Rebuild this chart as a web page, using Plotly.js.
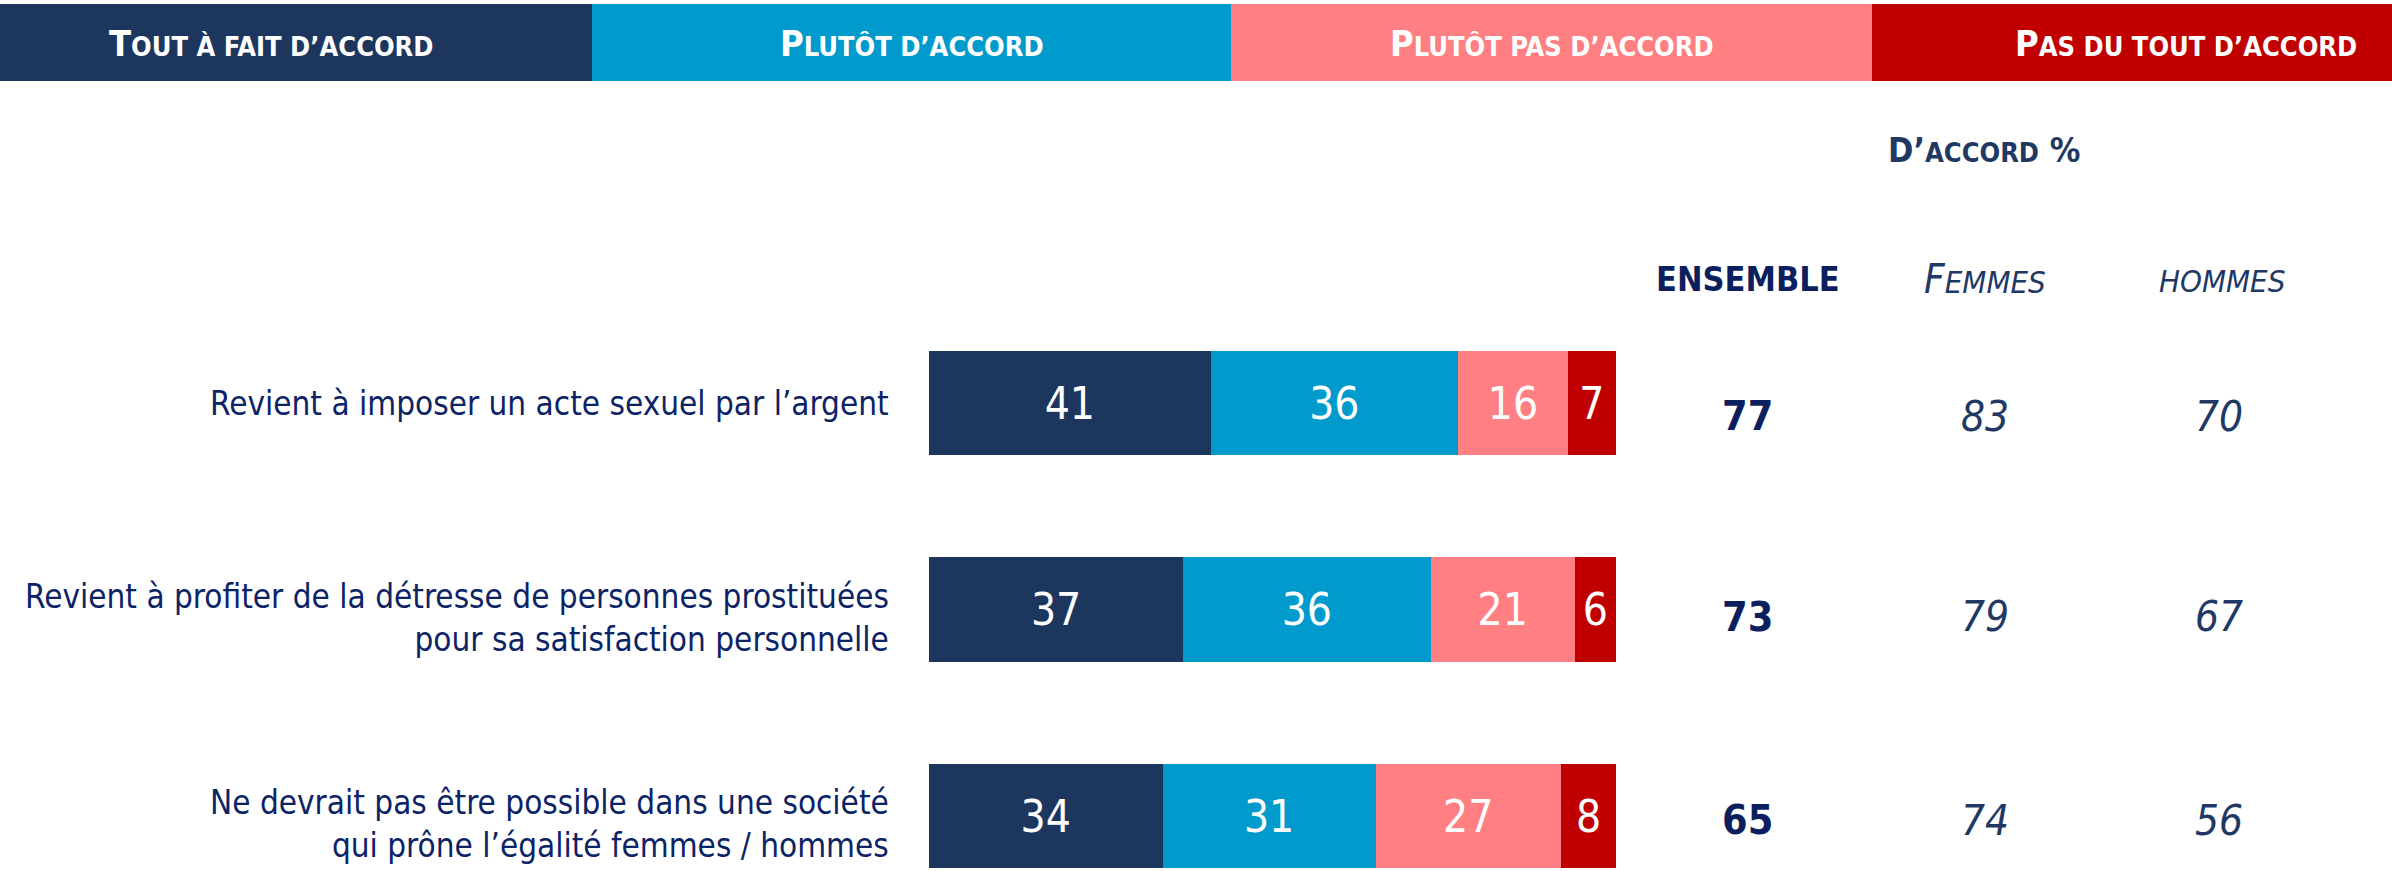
<!DOCTYPE html>
<html>
<head>
<meta charset="utf-8">
<script src="https://cdn.plot.ly/plotly-3.0.1.min.js"></script>
<style>
html,body{margin:0;padding:0;background:#fff;}
#chart{width:2392px;height:871px;}
</style>
</head>
<body>
<div id="chart"></div>
<script>
// ---- data ----
const categories = [
  "Revient à imposer un acte sexuel par l’argent",
  "Revient à profiter de la détresse de personnes prostituées<br>pour sa satisfaction personnelle",
  "Ne devrait pas être possible dans une société<br>qui prône l’égalité femmes / hommes"
];
const toutAFait    = [41, 37, 34];
const plutotAccord = [36, 36, 31];
const plutotPas    = [16, 21, 27];
const pasDuTout    = [7, 6, 8];
const ensemble = [77, 73, 65];
const femmes   = [83, 79, 74];
const hommes   = [70, 67, 56];
const seriesNames = ["Tout à fait d’accord", "Plutôt d’accord", "Plutôt pas d’accord", "Pas du tout d’accord"];
// header text as small caps: [big first letter, rest]
const headerText = [["T", "OUT À FAIT D’ACCORD"], ["P", "LUTÔT D’ACCORD"], ["P", "LUTÔT PAS D’ACCORD"], ["P", "AS DU TOUT D’ACCORD"]];

// ---- style ----
const W = 2392, H = 871;
const FONT = "'Liberation Sans Narrow', 'DejaVu Sans Condensed', 'Noto Sans', sans-serif";
const colors = ["#1c365e", "#009bcc", "#ff7f82", "#c00000"];
const labelColor = "#0c2366";
const valueShift = [-13, -7, -4];   // vertical nudges (px) of the value columns
const labelShift = [0, -8, -8];     // vertical nudges (px) of the row labels
const px = v => v / W;
const py = v => 1 - v / H;

const seriesValues = [toutAFait, plutotAccord, plutotPas, pasDuTout];
const traces = seriesValues.map((vals, i) => ({
  type: "bar",
  orientation: "h",
  name: seriesNames[i],
  y: categories,
  x: vals,
  width: 0.504,
  marker: {color: colors[i], line: {width: 0}},
  text: vals.map(String),
  textposition: "inside",
  insidetextanchor: "middle",
  constraintext: "none",
  textfont: {family: FONT, size: 44, color: "#ffffff"},
  hoverinfo: "skip"
}));

const shapes = [];
const annotations = [];
const headerBounds = [[0, 592], [592, 1231], [1231, 1872], [1872, 2392]];
const headerCenters = [271, 912, 1552, 2186];
headerBounds.forEach((b, i) => {
  shapes.push({type: "rect", xref: "paper", yref: "paper", x0: px(b[0]), x1: px(b[1]), y0: py(81), y1: py(4),
    fillcolor: colors[i], line: {width: 0}, layer: "below"});
  annotations.push({xref: "paper", yref: "paper", x: px(headerCenters[i]), y: py(43), xanchor: "center", yanchor: "middle",
    showarrow: false, text: "<b>" + headerText[i][0] + "<span style=\"font-size:27px\">" + headerText[i][1] + "</span></b>",
    font: {family: FONT, size: 36, color: "#ffffff"}});
});

// row labels and agreement values
categories.forEach((c, i) => {
  annotations.push({xref: "paper", yref: "y", x: px(891), y: c, xanchor: "right", yanchor: "middle", align: "right",
    yshift: labelShift[i], showarrow: false, text: c, font: {family: FONT, size: 33, color: labelColor}});
  annotations.push({xref: "paper", yref: "y", x: px(1747), y: c, xanchor: "center", yanchor: "middle", yshift: valueShift[i],
    showarrow: false, text: "<b>" + ensemble[i] + "</b>", font: {family: FONT, size: 41, color: "#0b1f5e"}});
  annotations.push({xref: "paper", yref: "y", x: px(1985), y: c, xanchor: "center", yanchor: "middle", yshift: valueShift[i],
    showarrow: false, text: "<i>" + femmes[i] + "</i>", font: {family: FONT, size: 42, color: "#1f3864"}});
  annotations.push({xref: "paper", yref: "y", x: px(2219), y: c, xanchor: "center", yanchor: "middle", yshift: valueShift[i],
    showarrow: false, text: "<i>" + hommes[i] + "</i>", font: {family: FONT, size: 42, color: "#1f3864"}});
});

// column headers
annotations.push({xref: "paper", yref: "paper", x: px(1984), y: py(150), xanchor: "center", yanchor: "middle", showarrow: false,
  text: "<b>D’<span style=\"font-size:27px\">ACCORD</span> %</b>", font: {family: FONT, size: 34, color: "#1f3864"}});
annotations.push({xref: "paper", yref: "paper", x: px(1748), y: py(279), xanchor: "center", yanchor: "middle", showarrow: false,
  text: "<b>ENSEMBLE</b>", font: {family: FONT, size: 34, color: "#0b1f5e"}});
annotations.push({xref: "paper", yref: "paper", x: px(1985), y: py(279), xanchor: "center", yanchor: "middle", showarrow: false,
  text: "<i>F<span style=\"font-size:31px\">EMMES</span></i>", font: {family: FONT, size: 40, color: "#1f3864"}});
annotations.push({xref: "paper", yref: "paper", x: px(2222), y: py(281), xanchor: "center", yanchor: "middle", showarrow: false,
  text: "<i>HOMMES</i>", font: {family: FONT, size: 31, color: "#1f3864"}});

const layout = {
  width: W, height: H,
  margin: {l: 0, r: 0, t: 0, b: 0, pad: 0},
  paper_bgcolor: "#ffffff", plot_bgcolor: "rgba(0,0,0,0)",
  barmode: "stack",
  showlegend: false,
  xaxis: {domain: [px(929), px(1616)], range: [0, 100], visible: false, fixedrange: true},
  yaxis: {domain: [0, (H - 300) / H], range: [2.2663, -0.4988], type: "category", visible: false, fixedrange: true},
  shapes: shapes,
  annotations: annotations,
  font: {family: FONT}
};

Plotly.newPlot("chart", traces, layout, {displayModeBar: false, staticPlot: true});
</script>
</body>
</html>
